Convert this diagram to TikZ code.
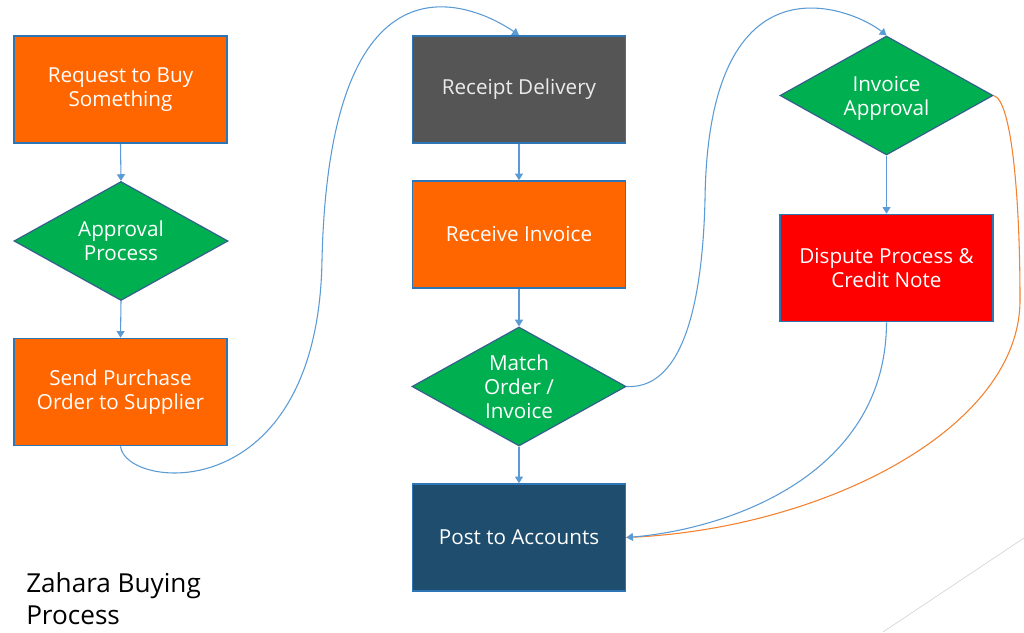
\documentclass[tikz,border=0pt]{standalone}
\usepackage{fontspec}
\setmainfont{Open Sans}
\usetikzlibrary{shapes.geometric,arrows.meta}
\definecolor{florange}{HTML}{FF6600}
\definecolor{flgreen}{HTML}{00B050}
\definecolor{flred}{HTML}{FF0000}
\definecolor{flgray}{HTML}{555555}
\definecolor{flnavy}{HTML}{1F4D6E}
\definecolor{boxline}{HTML}{2E75B6}
\definecolor{dialine}{HTML}{35608C}
\definecolor{connblue}{HTML}{5B9BD5}
\definecolor{connorange}{HTML}{F4812E}
\definecolor{faint}{HTML}{D9D9D9}
\tikzset{
  boxst/.style={rectangle, draw=boxline, line width=1.2pt, minimum width=159.75pt, minimum height=80.25pt, inner sep=0pt},
  diast/.style={diamond, draw=dialine, line width=0.9pt, fill=flgreen, minimum width=160.5pt, minimum height=89.25pt, inner sep=0pt},
  lbl/.style={text=white, font=\fontsize{15.5}{18}\selectfont, align=center},
  conn/.style={draw=connblue, line width=0.8pt, -{Triangle[width=6pt,length=5pt]}},
  connor/.style={draw=connorange, line width=0.8pt},
}
\begin{document}
\begin{tikzpicture}[x=0.75pt,y=-0.75pt]
\useasboundingbox[fill=white] (0,0) rectangle (1024,632);
% faint background line
\coordinate (f1) at (883,632);
\coordinate (f2) at (1024,538);
\draw[faint, line width=0.6pt] (f1) -- (f2);

% column 1
\node[boxst, fill=florange, lbl] (request) at (120.5,89.5) {Request to Buy\\Something};
\node[diast] (approval) at (121,241) {};
\node[lbl] (approvalt) at (approval.center) {Approval\\Process};
\node[boxst, fill=florange, lbl] (send) at (120.5,392) {Send Purchase\\Order to Supplier};

% column 2
\node[boxst, fill=flgray, lbl, text=white!92!black] (receipt) at (519,89.5) {Receipt Delivery};
\node[boxst, fill=florange, lbl] (receive) at (519,234.5) {Receive Invoice};
\node[diast] (match) at (519,386.5) {};
\node[lbl] (matcht) at (match.center) {Match\\Order /\\Invoice};
\node[boxst, fill=flnavy, lbl] (post) at (519,537.5) {Post to Accounts};

% column 3
\node[diast, minimum width=159.75pt] (invapp) at (886.5,95.5) {};
\node[lbl, yshift=-2.25pt] (invappt) at (invapp.center) {Invoice\\Approval};
\node[boxst, fill=flred, lbl] (dispute) at (886.5,268) {Dispute Process \&\\Credit Note};

% title
\node[anchor=base west, align=left, inner sep=0pt, font=\fontsize{19.6}{24}\selectfont] (title) at (26,624) {Zahara Buying\\Process};

% straight connectors
\draw[conn] (request.south) -- (approval.north);
\draw[conn] (approval.south) -- (send.north);
\draw[conn] (receipt.south) -- (receive.north);
\draw[conn] (receive.south) -- (match.north);
\draw[conn] (match.south) -- (post.north);
\draw[conn] (invapp.south) -- (dispute.north);

% curved connectors
\draw[conn] (send.south) .. controls (125,490) and (318,510) .. (322,260)
  .. controls (330,-80) and (490,15) .. (receipt.north);
\draw[conn] (match.east) .. controls (690,390) and (703,280) .. (705,200)
  .. controls (708,-55) and (855,10) .. (invapp.north);
\draw[connor] (invapp.east) .. controls (1012,100) and (1020,200) .. (1020,300)
  .. controls (1020,430) and (820,530) .. (post.east);
\draw[conn] (dispute.south) .. controls (886,480) and (720,530) .. (post.east);
\end{tikzpicture}
\end{document}
